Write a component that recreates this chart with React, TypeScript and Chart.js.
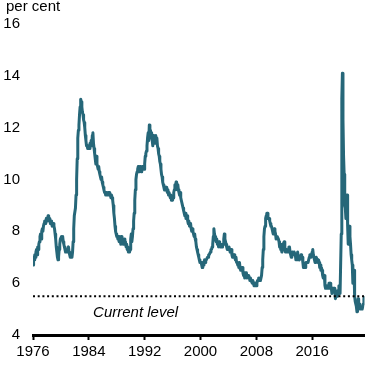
import { useEffect, useRef } from "react";
import { Chart, registerables } from "chart.js";

Chart.register(...registerables);

// Monthly unemployment rate (per cent), starting January 1976
const START_YEAR = 1976;

const rate1976to1979 = [
  6.7, 7.0, 6.9, 7.1, 7.0, 7.2, 7.3, 7.1, 7.4, 7.3, 7.5, 7.6,
  7.8, 7.9, 7.7, 8.0, 8.1, 8.0, 8.2, 8.3, 8.4, 8.3, 8.4, 8.5,
  8.5, 8.4, 8.6, 8.5, 8.5, 8.4, 8.3, 8.4, 8.3, 8.2, 8.2, 8.3,
  8.2, 8.1, 7.9, 7.7, 7.4, 7.2, 7.0, 6.9, 7.0, 7.3, 7.5, 7.7,
];

const rate1980to1984 = [
  7.7, 7.8, 7.7, 7.8, 7.6, 7.5, 7.4, 7.3, 7.2, 7.3, 7.3, 7.2,
  7.3, 7.4, 7.2, 7.1, 7.0, 7.1, 7.1, 7.0, 7.2, 7.6, 8.1, 8.6,
  8.6, 8.9, 9.4, 10.0, 10.8, 11.6, 11.9, 12.1, 12.5, 12.8, 13.1, 13.0,
  12.8, 12.6, 12.5, 12.3, 12.2, 12.0, 11.7, 11.5, 11.3, 11.3, 11.2, 11.3,
  11.3, 11.2, 11.4, 11.3, 11.5, 11.3, 11.7, 11.8, 11.4, 11.2, 11.0, 10.8,
];

const rate1985to1989 = [
  10.6, 10.9, 10.6, 10.5, 10.4, 10.5, 10.3, 10.2, 10.1, 10.0, 10.1, 9.9,
  9.8, 9.7, 9.6, 9.5, 9.5, 9.4, 9.5, 9.5, 9.4, 9.5, 9.4, 9.5,
  9.4, 9.4, 9.3, 9.4, 9.3, 9.2, 9.0, 8.7, 8.5, 8.2, 8.0, 7.9,
  7.8, 7.8, 7.7, 7.8, 7.6, 7.8, 7.7, 7.5, 7.8, 7.6, 7.7, 7.5,
  7.6, 7.7, 7.5, 7.6, 7.4, 7.5, 7.3, 7.4, 7.2, 7.3, 7.2, 7.3,
];

const rate1990to1994 = [
  7.7, 7.9, 7.6, 7.8, 8.1, 8.4, 8.7, 9.2, 9.6, 10.0, 10.2, 10.3,
  10.4, 10.5, 10.4, 10.3, 10.5, 10.4, 10.3, 10.4, 10.5, 10.4, 10.5, 10.4,
  10.6, 10.9, 11.0, 11.1, 11.3, 11.6, 11.8, 11.5, 12.1, 11.7, 11.9, 11.6,
  11.8, 11.5, 11.3, 11.7, 11.5, 11.6, 11.4, 11.7, 11.5, 11.6, 11.3, 11.2,
  11.0, 10.9, 10.7, 10.6, 10.4, 10.2, 10.1, 9.9, 9.8, 9.7, 9.6, 9.7,
];

const rate1995to1999 = [
  9.6, 9.7, 9.6, 9.5, 9.6, 9.4, 9.5, 9.5, 9.3, 9.4, 9.2, 9.3,
  9.2, 9.3, 9.5, 9.6, 9.8, 9.7, 9.9, 9.8, 9.6, 9.8, 9.6, 9.5,
  9.4, 9.5, 9.3, 9.2, 9.2, 9.0, 8.9, 8.8, 8.7, 8.6, 8.7, 8.5,
  8.5, 8.6, 8.4, 8.3, 8.4, 8.2, 8.2, 8.3, 8.1, 8.0, 8.1, 8.0,
  7.9, 7.8, 7.9, 7.7, 7.6, 7.4, 7.3, 7.2, 7.1, 7.0, 6.9, 6.8,
];

const rate2000to2004 = [
  6.8, 6.8, 6.7, 6.6, 6.8, 6.7, 6.8, 6.9, 6.8, 6.9, 6.9, 6.9,
  7.0, 7.0, 7.1, 7.1, 7.1, 7.2, 7.3, 7.3, 7.4, 7.5, 7.8, 8.1,
  7.9, 7.8, 7.7, 7.6, 7.7, 7.5, 7.6, 7.4, 7.6, 7.5, 7.4, 7.5,
  7.4, 7.4, 7.5, 7.5, 7.7, 7.9, 7.7, 7.6, 7.5, 7.4, 7.3, 7.3,
  7.3, 7.4, 7.3, 7.2, 7.2, 7.3, 7.1, 7.0, 7.1, 7.0, 7.1, 7.0,
];

const rate2005to2009 = [
  6.9, 7.0, 6.8, 6.8, 6.7, 6.7, 6.6, 6.8, 6.6, 6.5, 6.5, 6.6,
  6.6, 6.4, 6.3, 6.4, 6.2, 6.3, 6.4, 6.4, 6.2, 6.2, 6.3, 6.2,
  6.2, 6.1, 6.2, 6.1, 6.1, 6.0, 6.1, 6.0, 5.9, 5.9, 6.0, 5.9,
  5.9, 6.0, 6.1, 6.1, 6.2, 6.1, 6.1, 6.1, 6.1, 6.3, 6.6, 6.9,
  7.3, 7.8, 8.1, 8.2, 8.5, 8.6, 8.7, 8.7, 8.5, 8.5, 8.5, 8.4,
];

const rate2010to2014 = [
  8.3, 8.2, 8.2, 8.1, 8.1, 7.9, 8.0, 8.1, 8.0, 7.9, 7.7, 7.7,
  7.8, 7.8, 7.7, 7.6, 7.4, 7.5, 7.3, 7.3, 7.2, 7.3, 7.5, 7.5,
  7.6, 7.4, 7.2, 7.3, 7.3, 7.2, 7.3, 7.3, 7.4, 7.4, 7.2, 7.1,
  7.0, 7.1, 7.2, 7.2, 7.1, 7.2, 7.2, 7.1, 6.9, 6.9, 6.9, 7.2,
  7.0, 7.0, 6.9, 6.9, 7.0, 7.1, 7.0, 7.0, 6.8, 6.6, 6.7, 6.7,
];

const rate2015to2019 = [
  6.6, 6.8, 6.8, 6.8, 6.8, 6.8, 6.8, 7.0, 7.1, 7.0, 7.1, 7.1,
  7.2, 7.3, 7.1, 7.1, 6.9, 6.8, 6.9, 7.0, 7.0, 6.9, 6.8, 6.9,
  6.8, 6.6, 6.7, 6.5, 6.6, 6.5, 6.3, 6.2, 6.2, 6.3, 5.9, 5.8,
  5.9, 5.8, 5.8, 5.8, 5.8, 6.0, 5.8, 6.0, 5.9, 5.8, 5.6, 5.7,
  5.8, 5.8, 5.8, 5.7, 5.4, 5.5, 5.7, 5.7, 5.5, 5.6, 5.9, 5.6,
];

const rate2020to2023 = [
  5.6, 5.6, 7.9, 13.1, 14.1, 12.3, 10.9, 10.2, 9.0, 8.9, 8.5, 8.8,
  9.4, 8.2, 7.5, 8.1, 8.2, 7.8, 7.5, 7.1, 6.9, 6.7, 6.0, 6.0,
  6.5, 5.5, 5.3, 5.2, 5.1, 4.9, 4.9, 5.4, 5.2, 5.2, 5.1, 5.0,
  5.0, 5.0, 5.0, 5.0, 5.2, 5.4, 5.5,
];

const xTickYears = [1976, 1984, 1992, 2000, 2008, 2016];
const yTickValues = [4, 6, 8, 10, 12, 14, 16];
const CURRENT_LEVEL = 5.5;
const CURRENT_LEVEL_TEXT = "Current level";
const CURRENT_LEVEL_TEXT_POS = { x: 1990.7, y: 4.85 };
const UNIT_TEXT = "per cent";

const LINE_COLOR = "#266779";
const FONT_FAMILY = "Arial, 'Liberation Sans', sans-serif";

export default function App() {
  const ref = useRef<HTMLCanvasElement | null>(null);

  useEffect(() => {
    document.body.style.margin = "0";
    const monthly = [
      ...rate1976to1979,
      ...rate1980to1984,
      ...rate1985to1989,
      ...rate1990to1994,
      ...rate1995to1999,
      ...rate2000to2004,
      ...rate2005to2009,
      ...rate2010to2014,
      ...rate2015to2019,
      ...rate2020to2023,
    ];
    const points = monthly.map((v, i) => ({ x: START_YEAR + i / 12, y: v }));
    const lastX = points[points.length - 1].x;

    const textPlugin = {
      id: "annotText",
      afterDraw(chart: any) {
        const ctx = chart.ctx;
        const xs = chart.scales.x;
        const ys = chart.scales.y;
        ctx.save();
        ctx.fillStyle = "#000";
        ctx.font = `15px ${FONT_FAMILY}`;
        ctx.textAlign = "left";
        ctx.textBaseline = "alphabetic";
        ctx.fillText(UNIT_TEXT, 6, 11);
        ctx.font = `italic 15px ${FONT_FAMILY}`;
        ctx.textAlign = "center";
        ctx.textBaseline = "middle";
        ctx.fillText(
          CURRENT_LEVEL_TEXT,
          xs.getPixelForValue(CURRENT_LEVEL_TEXT_POS.x),
          ys.getPixelForValue(CURRENT_LEVEL_TEXT_POS.y)
        );
        ctx.restore();
      },
    };

    const font = { family: FONT_FAMILY, size: 15 };

    const chart = new Chart(ref.current as HTMLCanvasElement, {
      type: "line",
      data: {
        datasets: [
          {
            data: [
              { x: START_YEAR, y: CURRENT_LEVEL },
              { x: lastX, y: CURRENT_LEVEL },
            ],
            borderColor: "#000",
            borderWidth: 2,
            borderDash: [2, 2.7],
            pointRadius: 0,
            order: 0,
          },
          {
            data: points,
            borderColor: LINE_COLOR,
            borderWidth: 3,
            borderJoinStyle: "round",
            pointRadius: 0,
            tension: 0,
            order: 1,
          },
        ],
      } as any,
      options: {
        animation: false,
        responsive: false,
        devicePixelRatio: 1,
        layout: { padding: { top: 24, right: 17.5, left: 0, bottom: 0 } },
        plugins: { legend: { display: false }, tooltip: { enabled: false } },
        scales: {
          x: {
            type: "linear",
            min: START_YEAR,
            max: lastX,
            afterBuildTicks: (s: any) => {
              s.ticks = xTickYears.map((v) => ({ value: v }));
            },
            ticks: {
              callback: (v: any) => String(v),
              font,
              color: "#000",
              padding: 3,
              maxRotation: 0,
              autoSkip: false,
            },
            grid: {
              display: true,
              drawOnChartArea: false,
              drawTicks: true,
              tickLength: 5,
              tickWidth: 2,
              tickColor: "#000",
            },
            border: { display: true, width: 3, color: "#000" },
            afterFit: (s: any) => {
              s.height = 35;
            },
          },
          y: {
            min: 4,
            max: 16,
            afterBuildTicks: (s: any) => {
              s.ticks = yTickValues.map((v) => ({ value: v }));
            },
            ticks: { font, color: "#000", padding: 13 },
            grid: { display: false, drawTicks: false },
            border: { display: false },
            afterFit: (s: any) => {
              s.width = 33;
            },
          },
        },
      } as any,
      plugins: [textPlugin],
    });
    return () => chart.destroy();
  }, []);

  return (
    <canvas
      ref={ref}
      width={382}
      height={370}
      style={{ display: "block", width: 382, height: 370 }}
    />
  );
}
